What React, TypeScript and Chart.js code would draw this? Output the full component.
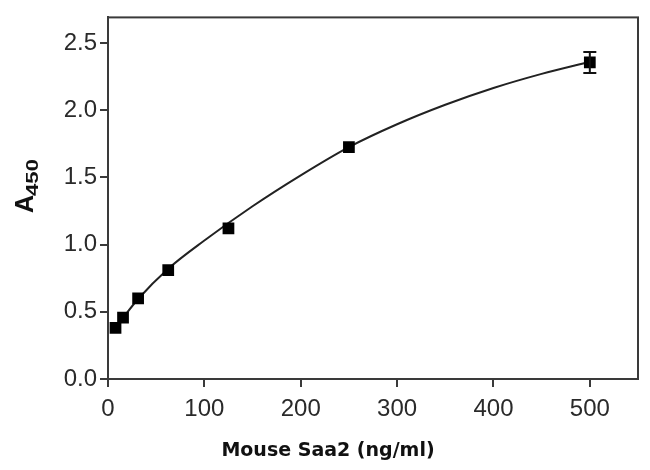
import React, { useEffect, useRef } from "react";
import { Chart, registerables } from "chart.js";

Chart.register(...registerables);

// Measured standards (mean ± SD)
const concentrations = [7.8, 15.6, 31.25, 62.5, 125, 250, 500];
const absorbance = [0.38, 0.456, 0.6, 0.81, 1.12, 1.725, 2.355];
const errors = [0, 0, 0, 0, 0, 0, 0.078];

// Fitted standard curve
const curveX = [7.8, 15.6, 31.25, 62.5, 100, 150, 200, 250, 300, 350, 400, 450, 500];
const curveY = [0.38, 0.455, 0.595, 0.82, 1.03, 1.285, 1.515, 1.725, 1.895, 2.04, 2.165, 2.27, 2.36];

const xTickValues = [0, 100, 200, 300, 400, 500];
const yTickValues = [0, 0.5, 1.0, 1.5, 2.0, 2.5];
const xTitle = "Mouse Saa2 (ng/ml)";
const yTitleMain = "A";
const yTitleSub = "450";

const AXIS_COLOR = "#3a3a3a";
const TICK_FONT = "Liberation Sans, Arial, sans-serif";

const framePlugin = {
  id: "frameAndTitles",
  afterDatasetsDraw(chart: any) {
    const { ctx, scales } = chart;
    const xs = scales.x;
    const ys = scales.y;
    ctx.save();
    ctx.strokeStyle = "#111";
    ctx.lineWidth = 2;
    concentrations.forEach((c, i) => {
      if (!errors[i]) return;
      const px = xs.getPixelForValue(c);
      const top = ys.getPixelForValue(absorbance[i] + errors[i]);
      const bot = ys.getPixelForValue(absorbance[i] - errors[i]);
      ctx.beginPath();
      ctx.moveTo(px, top);
      ctx.lineTo(px, bot);
      ctx.moveTo(px - 6.5, top);
      ctx.lineTo(px + 6.5, top);
      ctx.moveTo(px - 6.5, bot);
      ctx.lineTo(px + 6.5, bot);
      ctx.stroke();
    });
    ctx.restore();
  },
  afterDraw(chart: any) {
    const { ctx, chartArea } = chart;
    ctx.save();
    ctx.strokeStyle = AXIS_COLOR;
    ctx.lineWidth = 2;
    ctx.strokeRect(chartArea.left, chartArea.top, chartArea.right - chartArea.left, chartArea.bottom - chartArea.top);
    ctx.fillStyle = "#111";
    ctx.font = "bold 19px 'DejaVu Sans', sans-serif";
    ctx.textAlign = "center";
    ctx.textBaseline = "alphabetic";
    ctx.fillText(xTitle, chartArea.left + 220, 456);
    ctx.translate(33, 213);
    ctx.rotate(-Math.PI / 2);
    ctx.textAlign = "left";
    ctx.font = "bold 25px 'Liberation Sans', Arial, sans-serif";
    ctx.fillText(yTitleMain, 0, 0);
    const w = ctx.measureText(yTitleMain).width;
    ctx.save();
    ctx.translate(w - 1, 5);
    ctx.scale(1.3, 1);
    ctx.font = "bold 17px 'Liberation Sans', Arial, sans-serif";
    ctx.fillText(yTitleSub, 0, 0);
    ctx.restore();
    ctx.restore();
  },
};

export default function App() {
  const ref = useRef<HTMLCanvasElement>(null);
  useEffect(() => {
    document.body.style.margin = "0";
    const canvas = ref.current!;
    const chart = new Chart(canvas, {
      type: "scatter",
      data: {
        datasets: [
          {
            type: "line",
            data: curveX.map((c, i) => ({ x: c, y: curveY[i] })),
            borderColor: "#222",
            borderWidth: 2,
            pointRadius: 0,
            cubicInterpolationMode: "monotone",
            fill: false,
            order: 2,
          } as any,
          {
            type: "scatter",
            data: concentrations.map((c, i) => ({ x: c, y: absorbance[i] })),
            pointStyle: "rect",
            pointRadius: 8.3,
            pointBackgroundColor: "#000",
            pointBorderColor: "#000",
            pointBorderWidth: 0,
            showLine: false,
            order: 1,
          } as any,
        ],
      },
      options: {
        animation: false,
        responsive: false,
        events: [],
        layout: { padding: { top: 13, right: 12, left: 0, bottom: 0 } },
        plugins: {
          legend: { display: false },
          tooltip: { enabled: false },
        },
        scales: {
          x: {
            type: "linear",
            min: 0,
            max: 550,
            afterFit: (s: any) => {
              s.height = 91;
            },
            afterBuildTicks: (s: any) => {
              s.ticks = xTickValues.map((v) => ({ value: v }));
            },
            ticks: {
              color: "#2a2a2a",
              font: { family: TICK_FONT, size: 24 },
              padding: 8,
              maxRotation: 0,
              callback: (v: any) => String(v),
            },
            grid: {
              drawOnChartArea: false,
              drawTicks: true,
              tickLength: 8,
              color: AXIS_COLOR,
              lineWidth: 2,
            },
            border: { display: true, color: AXIS_COLOR, width: 2 },
          },
          y: {
            type: "linear",
            min: 0,
            max: 2.69,
            afterFit: (s: any) => {
              s.width = 108;
            },
            afterBuildTicks: (s: any) => {
              s.ticks = yTickValues.map((v) => ({ value: v }));
            },
            ticks: {
              color: "#2a2a2a",
              font: { family: TICK_FONT, size: 24 },
              padding: 3,
              callback: (v: any) => Number(v).toFixed(1),
            },
            grid: {
              drawOnChartArea: false,
              drawTicks: true,
              tickLength: 8,
              color: AXIS_COLOR,
              lineWidth: 2,
            },
            border: { display: true, color: AXIS_COLOR, width: 2 },
          },
        },
      },
      plugins: [framePlugin],
    });
    return () => chart.destroy();
  }, []);
  return (
    <div style={{ position: "absolute", left: 0, top: 0, width: 650, height: 470, background: "#fff" }}>
      <canvas ref={ref} width={650} height={470} style={{ width: 650, height: 470 }} />
    </div>
  );
}
